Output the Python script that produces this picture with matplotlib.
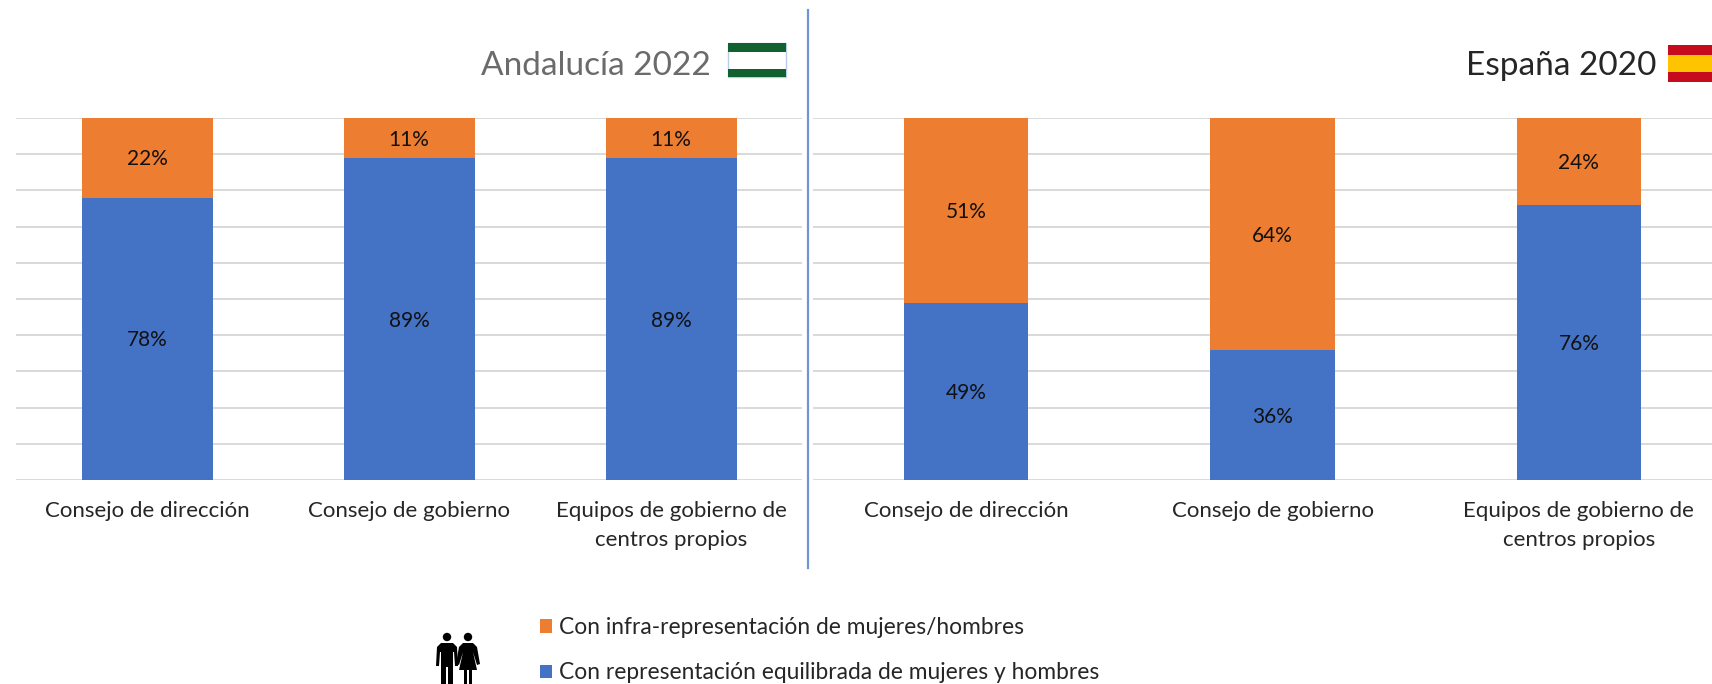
import matplotlib
matplotlib.use("Agg")
import matplotlib.pyplot as plt
from matplotlib.patches import Rectangle, Circle, Polygon

categorias = ['Consejo de dirección', 'Consejo de gobierno', 'Equipos de gobierno de\ncentros propios']
and_equil = [78, 89, 89]
and_infra = [22, 11, 11]
esp_equil = [49, 36, 76]
esp_infra = [51, 64, 24]
leg_infra = 'Con infra-representación de mujeres/hombres'
leg_equil = 'Con representación equilibrada de mujeres y hombres'

AZUL = '#4472C4'
NARANJA = '#ED7D31'
W, H = 1712, 684

plt.rcParams['font.family'] = ['Lato', 'DejaVu Sans']
fig = plt.figure(figsize=(W / 100, H / 100), dpi=100)


def ejes(x0, x1, y0, y1):
    return fig.add_axes([x0 / W, 1 - y1 / H, (x1 - x0) / W, (y1 - y0) / H])


def barras(ax, equil, infra, ancho):
    x = range(len(categorias))
    b1 = ax.bar(x, equil, ancho, color=AZUL, zorder=3)
    b2 = ax.bar(x, infra, ancho, bottom=equil, color=NARANJA, zorder=3)
    t1 = ax.bar_label(b1, labels=[f'{v}%' for v in equil], label_type='center', fontsize=15, color='#111111', zorder=4)
    t2 = ax.bar_label(b2, labels=[f'{v}%' for v in infra], label_type='center', fontsize=15, color='#111111', zorder=4)
    for t in t1 + t2:
        t.xyann = (0, -1.2)
    ax.set_xlim(-0.5, 2.5)
    ax.set_ylim(0, 100)
    ax.set_yticks(range(0, 101, 10))
    ax.set_yticklabels([])
    ax.set_xticks(list(x))
    ax.set_xticklabels(categorias, fontsize=16, color='#262626', linespacing=1.55)
    ax.tick_params(length=0, pad=15)
    ax.grid(axis='y', color='#D9D9D9', lw=1.4, zorder=0)
    for s in ax.spines.values():
        s.set_visible(False)
    return b1, b2


ax1 = ejes(16, 802, 118, 480)
b1, b2 = barras(ax1, and_equil, and_infra, 0.5)
ax2 = ejes(813, 1732, 118, 480)
barras(ax2, esp_equil, esp_infra, 0.405)

# capa en pixeles para titulos, banderas, icono y separador
ov = fig.add_axes([0, 0, 1, 1], zorder=10)
ov.set_xlim(0, W)
ov.set_ylim(H, 0)
ov.axis('off')
ov.patch.set_alpha(0)

ov.text(711, 66, 'Andalucía 2022', fontsize=24, color='#6B6B6B', ha='right', va='center')
ov.text(1656, 66, 'España 2020', fontsize=24, color='#262626', ha='right', va='center')

ov.plot([808.5, 808.5], [10, 568], color='#7394D3', lw=1.6)

# bandera de Andalucia
ov.add_patch(Rectangle((728, 43), 58, 34, fc='white', ec='#B9CCE8', lw=1))
ov.add_patch(Rectangle((728, 43), 58, 9, fc='#11602F', ec='none'))
ov.add_patch(Rectangle((728, 69), 58, 8, fc='#11602F', ec='none'))
# bandera de Espana
ov.add_patch(Rectangle((1668, 45), 50, 10, fc='#C60B1E', ec='none'))
ov.add_patch(Rectangle((1668, 55), 50, 17, fc='#FFC400', ec='none'))
ov.add_patch(Rectangle((1668, 72), 50, 10, fc='#C60B1E', ec='none'))

# icono hombre y mujer
for cx in (447, 468):
    ov.add_patch(Circle((cx, 637), 4.2, fc='black', ec='none'))
ov.add_patch(Polygon([(441, 643), (453, 643), (457, 647), (458, 666), (455, 666), (454, 652), (453, 652),
                      (453, 684), (448, 684), (448, 667), (446, 667), (446, 684), (441, 684), (441, 652),
                      (440, 652), (439, 666), (436, 666), (437, 647)], fc='black', ec='none'))
ov.add_patch(Polygon([(463, 643), (473, 643), (477, 647), (480, 664), (477, 665), (473, 652), (477, 670),
                      (472, 670), (472, 684), (469, 684), (469, 670), (467, 670), (467, 684), (464, 684),
                      (464, 670), (459, 670), (463, 652), (459, 665), (456, 664), (459, 647)],
                     fc='black', ec='none'))

fig.legend([b2, b1], [leg_infra, leg_equil], loc='upper left', bbox_to_anchor=(540 / W, 1 - 617 / H),
           frameon=False, fontsize=16.4, labelcolor='#262626', handlelength=0.52, handleheight=0.52,
           handletextpad=0.3, labelspacing=1.07, borderpad=0, borderaxespad=0)

fig.savefig('out.png', dpi=100)
